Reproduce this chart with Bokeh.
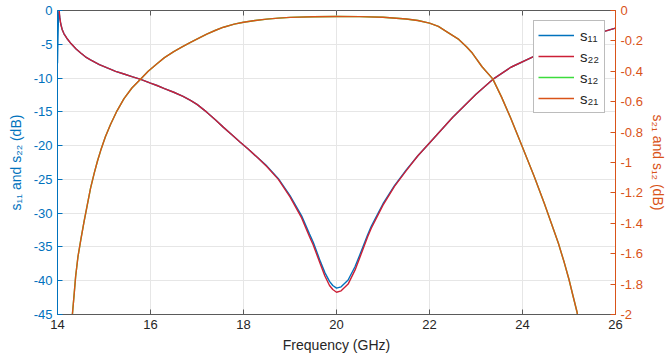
from bokeh.plotting import figure
from bokeh.models import Range1d, LinearAxis, FixedTicker, Legend, LegendItem
from bokeh.embed import file_html
from bokeh.resources import INLINE

# Reflection coefficient s22 (dB, left axis)
freq_s22 = [14.036, 14.05, 14.07, 14.1, 14.14, 14.2, 14.29, 14.4, 14.5, 14.6,
            14.71, 14.9, 15.07, 15.25, 15.43, 15.6, 15.79, 16.0, 16.14, 16.3,
            16.5, 16.7, 16.86, 17.0, 17.21, 17.4, 17.57, 17.75, 17.93, 18.1,
            18.29, 18.5, 18.75, 19.0, 19.25, 19.42, 19.5, 19.65, 19.75, 19.85,
            19.92, 20.0, 20.1, 20.25, 20.4, 20.5, 20.67, 20.75, 21.0, 21.25,
            21.5, 21.75, 22.0, 22.5, 23.0, 23.36, 23.75, 24.27, 24.75, 25.25,
            25.78, 26.0]
s22 = [0.0, -1.1, -2.0, -2.8, -3.45, -4.1, -4.9, -5.7, -6.3, -6.85,
       -7.3, -8.0, -8.5, -9.0, -9.4, -9.8, -10.2, -10.75, -11.1, -11.55,
       -12.1, -12.7, -13.3, -13.9, -15.05, -16.2, -17.3, -18.4, -19.5, -20.5,
       -21.7, -23.1, -25.0, -27.6, -30.7, -33.5, -34.7, -37.5, -39.3, -40.7,
       -41.3, -41.7, -41.5, -40.5, -38.4, -36.6, -33.5, -32.2, -28.8, -26.0,
       -23.7, -21.5, -19.6, -15.8, -12.4, -10.2, -8.4, -6.7, -5.4, -4.2,
       -3.05, -2.6]

# Reflection coefficient s11 (dB, left axis)
freq_s11 = [14.0, 14.01, 14.02, 14.03, 14.05, 14.07, 14.1, 14.14, 14.2, 14.29,
            14.4, 14.5, 14.6, 14.71, 14.9, 15.07, 15.25, 15.43, 15.6, 15.79,
            16.0, 16.14, 16.3, 16.5, 16.7, 16.86, 17.0, 17.21, 17.4, 17.57,
            17.75, 17.93, 18.1, 18.29, 18.5, 18.75, 19.0, 19.25, 19.42, 19.5,
            19.65, 19.75, 19.85, 19.92, 20.0, 20.1, 20.25, 20.4, 20.5, 20.67,
            20.75, 21.0, 21.25, 21.5, 21.75, 22.0, 22.5, 23.0, 23.36, 23.75,
            24.27, 24.75, 25.25, 25.78, 26.0]
s11 = [-7.8, -4.0, -1.2, -0.1, -1.1, -2.0, -2.8, -3.45, -4.1, -4.9,
       -5.7, -6.3, -6.85, -7.3, -8.0, -8.5, -9.0, -9.4, -9.8, -10.2,
       -10.75, -11.1, -11.55, -12.1, -12.7, -13.3, -13.9, -15.05, -16.2, -17.3,
       -18.4, -19.5, -20.5, -21.7, -23.0, -24.9, -27.4, -30.4, -33.1, -34.3,
       -37.1, -38.8, -40.1, -40.7, -41.1, -40.9, -39.9, -37.9, -36.2, -33.2,
       -31.9, -28.6, -25.9, -23.6, -21.5, -19.6, -15.8, -12.4, -10.2, -8.4,
       -6.7, -5.4, -4.2, -3.05, -2.6]

# Transmission coefficients s21 / s12 (dB, right axis)
freq_s21 = [14.3, 14.32, 14.36, 14.39, 14.44, 14.5, 14.57, 14.64, 14.71, 14.79,
            14.86, 14.93, 15.03, 15.14, 15.28, 15.43, 15.6, 15.79, 15.95, 16.14,
            16.3, 16.5, 16.68, 16.86, 17.05, 17.21, 17.4, 17.57, 17.8, 18.0,
            18.25, 18.5, 18.75, 19.0, 19.5, 20.0, 20.5, 21.0, 21.5, 21.75,
            22.0, 22.19, 22.4, 22.63, 22.8, 22.92, 23.13, 23.36, 23.55, 23.75,
            24.0, 24.25, 24.47, 24.62, 24.77, 24.9, 25.0, 25.08, 25.17, 25.2]
s21 = [-2.06, -2.0, -1.86, -1.75, -1.62, -1.51, -1.39, -1.28, -1.17, -1.07,
       -0.99, -0.92, -0.83, -0.75, -0.66, -0.58, -0.51, -0.45, -0.40, -0.35,
       -0.31, -0.27, -0.24, -0.21, -0.18, -0.155, -0.13, -0.11, -0.09, -0.077,
       -0.066, -0.057, -0.050, -0.045, -0.041, -0.039, -0.040, -0.044, -0.056, -0.066,
       -0.083, -0.105, -0.145, -0.19, -0.24, -0.28, -0.37, -0.45, -0.57, -0.71,
       -0.90, -1.09, -1.27, -1.40, -1.53, -1.66, -1.77, -1.87, -1.98, -2.03]
freq_s12 = list(freq_s21)
s12 = list(s21)

x_ticks = [14, 16, 18, 20, 22, 24, 26]
x_tick_labels = ["14", "16", "18", "20", "22", "24", "26"]
left_ticks = [-45, -40, -35, -30, -25, -20, -15, -10, -5, 0]
left_tick_labels = ["-45", "-40", "-35", "-30", "-25", "-20", "-15", "-10", "-5", "0"]
right_ticks = [-2.0, -1.8, -1.6, -1.4, -1.2, -1.0, -0.8, -0.6, -0.4, -0.2, 0.0]
right_tick_labels = ["-2", "-1.8", "-1.6", "-1.4", "-1.2", "-1", "-0.8", "-0.6", "-0.4", "-0.2", "0"]

BLUE = "#0072BD"
ORANGE = "#D95319"
RED = "#CC1F36"
GREEN = "#3CDC3C"
DARK = "#262626"
BOX = "#5a5a5a"
FONT = "Liberation Sans"
TICK_PX = 5

p = figure(width=668, height=362, output_backend="svg", toolbar_location=None,
           x_range=Range1d(14, 26), y_range=Range1d(-45, 0),
           min_border_left=57, min_border_right=51, min_border_top=10,
           min_border_bottom=48)
p.extra_y_ranges = {"right": Range1d(-2, 0)}
p.background_fill_color = "white"
p.border_fill_color = "white"
p.outline_line_color = BOX
p.outline_line_width = 1

# grid
for g in (p.xgrid, p.ygrid):
    g.grid_line_color = "#e6e6e6"
    g.grid_line_width = 1
p.xgrid.ticker = FixedTicker(ticks=x_ticks)
p.ygrid.ticker = FixedTicker(ticks=left_ticks)


def style_axis(ax, color, label_color):
    ax.axis_line_color = color
    ax.major_tick_line_color = color
    ax.major_tick_in = TICK_PX
    ax.major_tick_out = 0
    ax.minor_tick_line_color = None
    ax.major_label_text_color = label_color
    ax.axis_label_text_color = label_color
    ax.major_label_text_font = FONT
    ax.axis_label_text_font = FONT
    ax.major_label_text_font_size = "13px"
    ax.axis_label_text_font_size = "14px"
    ax.axis_label_text_font_style = "normal"


# bottom axis
xa = p.xaxis[0]
xa.ticker = FixedTicker(ticks=x_ticks)
xa.major_label_overrides = dict(zip(x_ticks, x_tick_labels))
xa.axis_label = "Frequency (GHz)"
style_axis(xa, BOX, DARK)
xa.major_label_standoff = 5
xa.axis_label_standoff = 5

# left axis
ya = p.yaxis[0]
ya.ticker = FixedTicker(ticks=left_ticks)
ya.major_label_overrides = dict(zip(left_ticks, left_tick_labels))
ya.axis_label = "s\u2081\u2081 and s\u2082\u2082 (dB)"
style_axis(ya, BLUE, BLUE)
ya.major_label_standoff = 5
ya.axis_label_standoff = 7

# right axis
ra = LinearAxis(y_range_name="right",
                ticker=FixedTicker(ticks=right_ticks),
                axis_label="s\u2082\u2081 and s\u2081\u2082 (dB)")
ra.major_label_overrides = dict(zip(right_ticks, right_tick_labels))
style_axis(ra, ORANGE, ORANGE)
ra.major_label_standoff = 5
ra.axis_label_standoff = 4
p.add_layout(ra, "right")

# inward ticks along the top edge of the box
tick_len = TICK_PX * 45 / 304
p.segment(x0=x_ticks, y0=[0] * len(x_ticks), x1=x_ticks,
          y1=[-tick_len] * len(x_ticks), line_color=BOX, line_width=1)

r11 = p.line(freq_s11, s11, line_color=BLUE, line_width=1.4)
r22 = p.line(freq_s22, s22, line_color=RED, line_width=1.4)
r12 = p.line(freq_s12, s12, line_color=GREEN, line_width=1.4, y_range_name="right")
r21 = p.line(freq_s21, s21, line_color=ORANGE, line_width=1.4, y_range_name="right")

legend = Legend(items=[
    LegendItem(label="s\u2081\u2081", renderers=[r11]),
    LegendItem(label="s\u2082\u2082", renderers=[r22]),
    LegendItem(label="s\u2081\u2082", renderers=[r12]),
    LegendItem(label="s\u2082\u2081", renderers=[r21]),
], location="top_right")
legend.margin = 10
legend.padding = 4
legend.spacing = 1
legend.glyph_width = 36
legend.glyph_height = 20
legend.label_height = 20
legend.label_standoff = 6
legend.label_text_font = FONT
legend.label_text_font_size = "15px"
legend.label_text_color = DARK
legend.border_line_color = "#7a7a7a"
legend.border_line_width = 1
legend.background_fill_color = "white"
legend.background_fill_alpha = 1
p.add_layout(legend, "center")

open("out.html", "w").write(file_html(p, INLINE))
